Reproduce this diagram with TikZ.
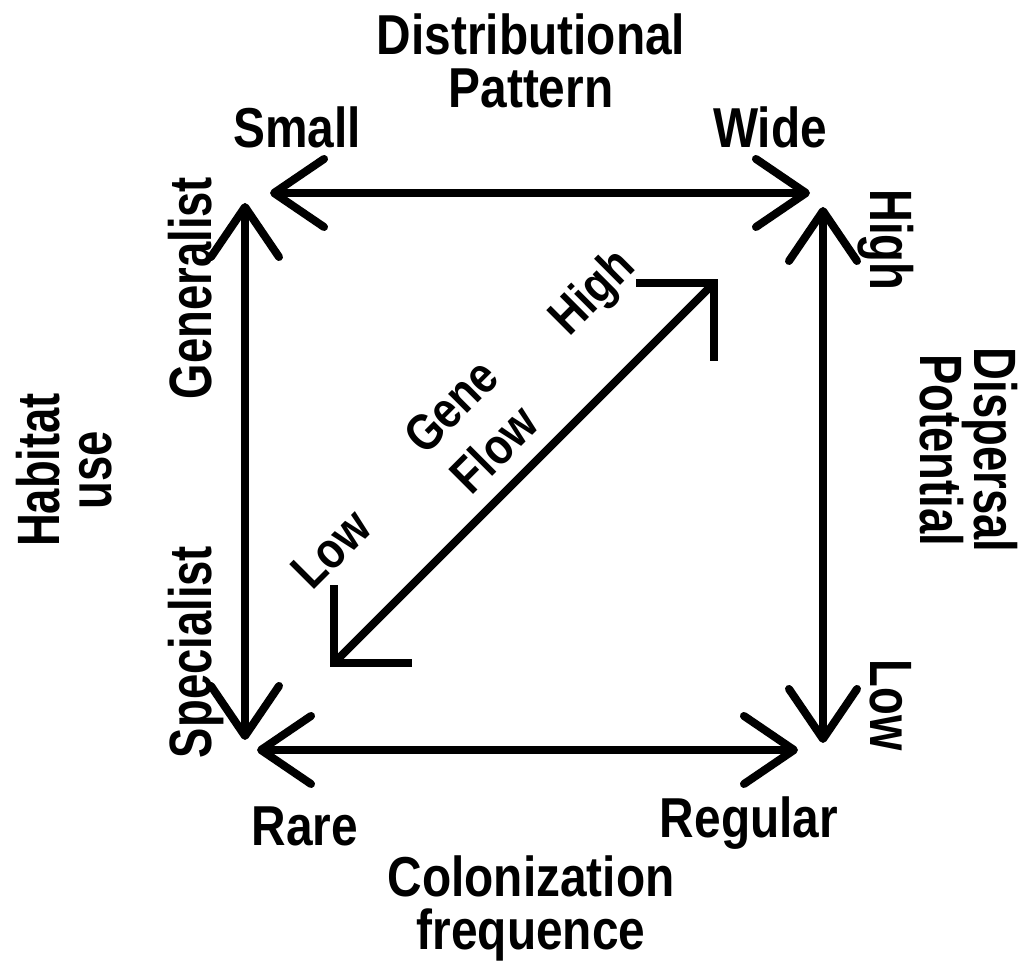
\documentclass[tikz,border=0pt]{standalone}
\usepackage{fontspec}
\newfontfamily\flatfont{Liberation Sans}[FakeStretch=0.85]
\newfontfamily\sidefont{Liberation Sans}[FakeStretch=0.76]
\usetikzlibrary{arrows.meta}

\begin{document}
\begin{tikzpicture}[x=0.01cm, y=-0.01cm]
    \tikzset{hlabel/.style={font=\flatfont\bfseries\fontsize{16}{16}\selectfont,
      inner sep=0pt, anchor=base}}
    \tikzset{vlabel/.style={font=\sidefont\bfseries\fontsize{17}{17}\selectfont,
      inner sep=0pt, anchor=base}}
    \tikzset{dlabel/.style={font=\flatfont\bfseries\fontsize{14.5}{14.5}\selectfont,
      inner sep=0pt, rotate=45}}
    \tikzset{axisline/.style={line width=0.08cm,
      {Straight Barb[length=0.5cm, width=0.68cm, round]}-{Straight Barb[length=0.5cm, width=0.68cm, round]}}}
    \tikzset{flowline/.style={line width=0.08cm,
      {Straight Barb[length=0.55cm, width=1.1cm, sharp]}-{Straight Barb[length=0.55cm, width=1.1cm, sharp]}}}

    \useasboundingbox (0,0) rectangle (1023,965);

    % arrow ends
    \coordinate (smallEnd) at (270,193);
    \coordinate (wideEnd)  at (810,193);
    \coordinate (genEnd)   at (245,203);
    \coordinate (specEnd)  at (245,740);
    \coordinate (highEnd)  at (823,207);
    \coordinate (lowEnd)   at (823,743);
    \coordinate (rareEnd)  at (257,750);
    \coordinate (regEnd)   at (798,750);
    \coordinate (flowLow)  at (330,667);
    \coordinate (flowHigh) at (718,279);

    % square of arrows
    \draw[axisline] (smallEnd) -- (wideEnd);
    \draw[axisline] (genEnd) -- (specEnd);
    \draw[axisline] (highEnd) -- (lowEnd);
    \draw[axisline] (rareEnd) -- (regEnd);
    \draw[flowline] (flowLow) -- (flowHigh);

    % top
    \node[hlabel] (distLbl) at (531,55) {Distributional};
    \node[hlabel] (pattLbl) at (531,108) {Pattern};
    \node[hlabel] (smallLbl) at (297,148) {Small};
    \node[hlabel] (wideLbl) at (770,148) {Wide};

    % bottom
    \node[hlabel] (rareLbl) at (305,846) {Rare};
    \node[hlabel] (regLbl) at (749,838) {Regular};
    \node[hlabel] (colLbl) at (531,897) {Colonization};
    \node[hlabel] (freqLbl) at (531,950) {frequence};

    % left
    \node[vlabel, rotate=90] (genLbl) at (212,288) {Generalist};
    \node[vlabel, rotate=90] (specLbl) at (212,652) {Specialist};
    \node[vlabel, rotate=90] (habLbl) at (60,470) {Habitat};
    \node[vlabel, rotate=90] (useLbl) at (112,470) {use};

    % right
    \node[vlabel, rotate=-90] (highLbl) at (870,240) {High};
    \node[vlabel, rotate=-90] (lowLbl) at (870,705) {Low};
    \node[vlabel, rotate=-90] (potLbl) at (920,450) {Potential};
    \node[vlabel, rotate=-90] (dispLbl) at (975,450) {Dispersal};

    % diagonal
    \node[dlabel] (gfHigh) at (594,294) {High};
    \node[dlabel] (geneLbl) at (451,406) {Gene};
    \node[dlabel] (flowLbl) at (494,449) {Flow};
    \node[dlabel] (gfLow) at (331,549) {Low};
\end{tikzpicture}
\end{document}
